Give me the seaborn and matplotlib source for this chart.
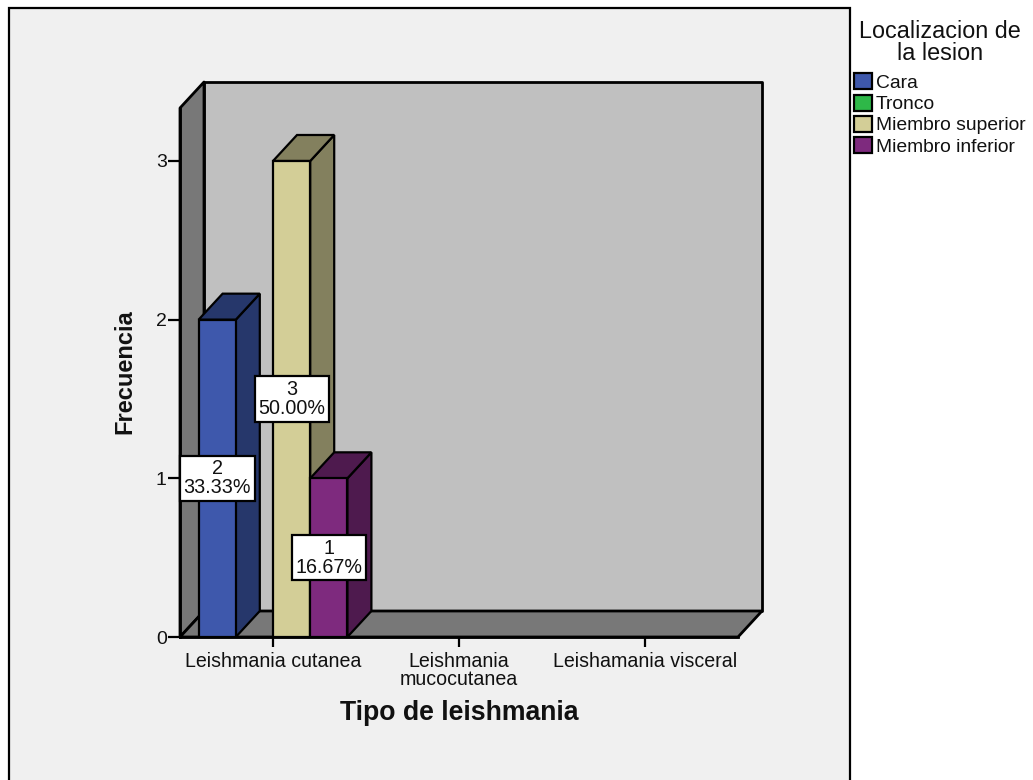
import matplotlib
matplotlib.use("Agg")
import matplotlib.pyplot as plt
from matplotlib.colors import to_rgb
from matplotlib.patches import Polygon, Rectangle
import pandas as pd
import seaborn as sns

# Counts of cases by type of leishmaniasis and lesion site
tipos = ["Leishmania cutanea", "Leishmania\nmucocutanea", "Leishamania visceral"]
localizaciones = ["Cara", "Tronco", "Miembro superior", "Miembro inferior"]
tipo_filas = ["Leishmania cutanea", "Leishmania cutanea", "Leishmania cutanea"]
localizacion_filas = ["Cara", "Miembro superior", "Miembro inferior"]
frecuencias = [2, 3, 1]
colores = ["#3E58AC", "#2EB848", "#D3CE97", "#7E2A7E"]

W, H = 1033, 780
sns.set_theme(style="white")
plt.rcParams["font.family"] = ["Liberation Sans", "DejaVu Sans"]
plt.rcParams["text.color"] = "#111111"

fig = plt.figure(figsize=(W / 100, H / 100), dpi=100, facecolor="white")

# Outer chart panel; its lower edge runs past the bottom of the canvas
fig.add_artist(Rectangle((9 / W, -10 / H), 841 / W, (H - 8 + 10) / H,
                         transform=fig.transFigure, facecolor="#F0F0F0",
                         edgecolor="black", linewidth=1.6, zorder=-5))

ax = fig.add_axes([180 / W, (H - 637) / H, 558 / W, 529 / H])
ax.patch.set_alpha(0)

datos = pd.DataFrame({"tipo": tipo_filas, "localizacion": localizacion_filas,
                      "frecuencia": frecuencias})
sns.barplot(data=datos, x="tipo", y="frecuencia", hue="localizacion",
            order=tipos, hue_order=localizaciones,
            palette=dict(zip(localizaciones, colores)),
            width=0.8, gap=0, saturation=1, errorbar=None, dodge=True,
            edgecolor="black", linewidth=1.6, ax=ax)

x0, x1 = -0.5, 2.5
y0, y1 = 0, 529 / 158.67
ax.set_xlim(x0, x1)
ax.set_ylim(y0, y1)

# Bars drawn by seaborn, left to right, collected before the box faces are added
barras = sorted((b for b in ax.patches if b.get_height() > 0), key=lambda b: b.get_x())

# Oblique depth of the pseudo-3D box, expressed in data units
dx = 24 / (558 / 3)
dy = 26 / 158.67
edge = dict(edgecolor="black", linewidth=2, joinstyle="round", clip_on=False)

ax.add_patch(Rectangle((x0 + dx, y0 + dy), x1 - x0, y1 - y0, facecolor="#C0C0C0", zorder=0.5, **edge))
ax.add_patch(Polygon([(x0, y0), (x0 + dx, y0 + dy), (x0 + dx, y1 + dy), (x0, y1)],
                     facecolor="#787878", zorder=0.6, **edge))
ax.add_patch(Polygon([(x0, y0), (x1, y0), (x1 + dx, y0 + dy), (x0 + dx, y0 + dy)],
                     facecolor="#787878", zorder=0.6, **edge))

# Side and top faces for each bar, plus its value box
total = sum(frecuencias)
for i, barra in enumerate(barras):
    x, w, h = barra.get_x(), barra.get_width(), barra.get_height()
    oscuro = tuple(c * 0.62 for c in to_rgb(barra.get_facecolor()))
    z = 3 + i
    barra.set_zorder(z + 0.5)
    cara = dict(facecolor=oscuro, edgecolor="black", linewidth=1.6, clip_on=False, zorder=z)
    ax.add_patch(Polygon([(x + w, 0), (x + w + dx, dy), (x + w + dx, h + dy), (x + w, h)], **cara))
    ax.add_patch(Polygon([(x, h), (x + dx, h + dy), (x + w + dx, h + dy), (x + w, h)], **cara))
    ax.text(x + w / 2, h / 2, f"{h:.0f}\n{h / total * 100:.2f}%",
            ha="center", va="center", fontsize=14.2, linespacing=1.0, zorder=20,
            bbox=dict(boxstyle="square,pad=0.18", facecolor="white",
                      edgecolor="black", linewidth=1.6))

ax.set_yticks([0, 1, 2, 3])
ax.tick_params(axis="y", length=8.5, width=1.6, color="black", labelsize=14, pad=1,
               labelcolor="#111111", left=True)
ax.tick_params(axis="x", length=7.5, width=1.6, color="black", labelsize=14.1, pad=3,
               labelcolor="#111111", bottom=True)
for etiqueta in ax.get_xticklabels():
    etiqueta.set_linespacing(0.95)

for lado in ("top", "right"):
    ax.spines[lado].set_visible(False)
for lado in ("left", "bottom"):
    ax.spines[lado].set_color("black")
    ax.spines[lado].set_linewidth(2)

ax.set_xlabel("")
ax.set_ylabel("")
fig.text(125 / W, 1 - 372 / H, "Frecuencia", rotation=90, fontsize=17, fontweight="bold",
         ha="center", va="center")
fig.text(459.5 / W, 1 - 713 / H, "Tipo de leishmania", fontsize=19.2, fontweight="bold",
         ha="center", va="center")

sns.move_legend(ax, "upper left", bbox_to_anchor=(850.5 / W, 1 - 16 / H),
                bbox_transform=fig.transFigure, frameon=False,
                title="Localizacion de\nla lesion", title_fontsize=16.8, fontsize=13.85,
                handlelength=0.92, handleheight=0.92, handletextpad=0.2,
                labelspacing=0.13, borderpad=0.2, borderaxespad=0, alignment="center")
leyenda = ax.get_legend()
leyenda.get_title().set_multialignment("center")
leyenda.get_title().set_linespacing(0.95)
leyenda._legend_box.sep = 6

fig.savefig("out.png", dpi=100, facecolor="white")
